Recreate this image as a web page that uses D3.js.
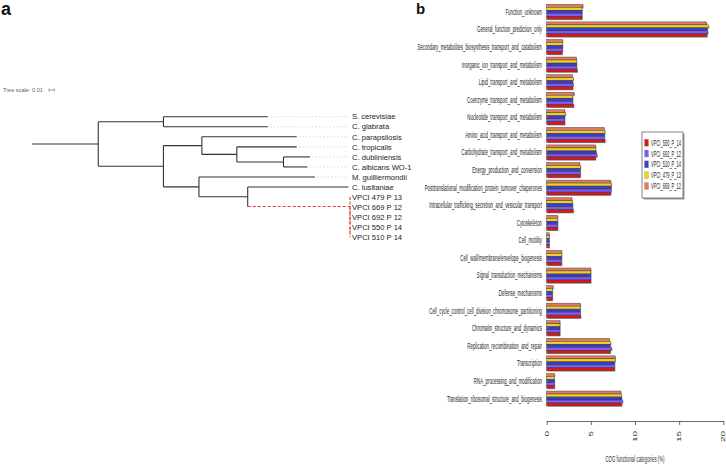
<!DOCTYPE html>
<html><head><meta charset="utf-8">
<script src="https://cdn.jsdelivr.net/npm/d3@7"></script>
<style>body{margin:0;background:#fff}svg{display:block}</style>
</head><body>
<svg id="c" width="726" height="467"></svg>
<script>
// ---------------- DATA ----------------
const categories = [
 "Function_unknown","General_function_prediction_only",
 "Secondary_metabolites_biosynthesis_transport_and_catabolism",
 "Inorganic_ion_transport_and_metabolism","Lipid_transport_and_metabolism",
 "Coenzyme_transport_and_metabolism","Nucleotide_transport_and_metabolism",
 "Amino_acid_transport_and_metabolism","Carbohydrate_transport_and_metabolism",
 "Energy_production_and_conversion",
 "Posttranslational_modification_protein_turnover_chaperones",
 "Intracellular_trafficking_secretion_and_vesicular_transport",
 "Cytoskeleton","Cell_motility","Cell_wall/membrane/envelope_biogenesis",
 "Signal_transduction_mechanisms","Defense_mechanisms",
 "Cell_cycle_control_cell_division_chromosome_partitioning",
 "Chromatin_structure_and_dynamics","Replication_recombination_and_repair",
 "Transcription","RNA_processing_and_modification",
 "Translation_ribosomal_structure_and_biogenesis"];
const seriesNames = ["VPCI_550_P_14","VPCI_692_P_12","VPCI_510_P_14","VPCI_479_P_13","VPCI_669_P_12"];
const vpci550 = [4.0,18.15,1.75,3.45,2.95,3.05,2.05,6.6,5.55,3.8,7.25,3.0,1.25,0.28,1.7,5.0,0.65,3.85,1.5,7.2,7.7,0.88,8.5];
const vpci692 = [4.0,18.25,1.8,3.4,3.0,2.95,2.05,6.55,5.7,3.8,7.3,2.95,1.25,0.28,1.7,5.0,0.65,3.8,1.5,7.35,7.7,0.88,8.6];
const vpci510 = [4.0,18.2,1.8,3.4,2.95,2.95,2.05,6.55,5.6,3.8,7.3,2.95,1.25,0.28,1.7,5.0,0.65,3.8,1.5,7.2,7.7,0.88,8.5];
const vpci479 = [4.0,18.35,1.8,3.4,3.0,2.95,2.15,6.6,5.55,3.85,7.3,2.9,1.25,0.28,1.7,5.0,0.65,3.8,1.5,7.25,7.75,0.85,8.45];
const vpci669 = [4.1,18.1,1.8,3.35,2.9,3.1,2.05,6.5,5.55,3.75,7.25,2.85,1.25,0.28,1.7,5.0,0.72,3.8,1.5,7.1,7.75,0.88,8.4];
const seriesValues = [vpci550, vpci692, vpci510, vpci479, vpci669];
const seriesColors = ["#d41a1a","#7b5cf5","#3b3bd0","#ecd21c","#e07868"];
const xTicks = [0,5,10,15,20];
const xTitle = "COG functional categories (%)";

// phylogenetic tree (branch lengths in substitutions/site)
const tree = {name:"root", children:[
 {name:"n1", length:0.125, children:[
  {name:"n2", length:0.123, children:[
    {name:"S. cerevisiae", length:0.197},
    {name:"C. glabrata", length:0.197}]},
  {name:"n3", length:0.123, children:[
    {name:"n4", length:0.0725, children:[
      {name:"C. parapsilosis", length:0.179},
      {name:"n5", length:0.066, children:[
        {name:"C. tropicalis", length:0.113},
        {name:"n6", length:0.088, children:[
          {name:"C. dubliniensis", length:0.050},
          {name:"C. albicans WO-1", length:0.045}]}]}]},
    {name:"n7", length:0.067, children:[
      {name:"M. guilliermondii", length:0.219},
      {name:"n8", length:0.092, children:[
        {name:"C. lusitaniae", length:0.190},
        {name:"VPCI", length:0.193, children:[
          {name:"VPCI 479 P 13", length:0},
          {name:"v1", length:0, children:[
            {name:"VPCI 669 P 12", length:0},
            {name:"v2", length:0, children:[
              {name:"VPCI 692 P 12", length:0},
              {name:"v3", length:0, children:[
                {name:"VPCI 550 P 14", length:0},
                {name:"VPCI 510 P 14", length:0}]}]}]}]}]}]}]}]}]};
const treeScaleValue = 0.01;

// ---------------- DRAW ----------------
const svg = d3.select("#c");
svg.append("rect").attr("width",726).attr("height",467).attr("fill","#fff");
const FF = "Liberation Sans, Arial, sans-serif";

// panel letters
svg.append("text").attr("x",1).attr("y",15).text("a")
  .attr("font-family",FF).attr("font-weight","bold").attr("font-size",18).attr("fill","#111");
svg.append("text").attr("x",416).attr("y",14).text("b")
  .attr("font-family",FF).attr("font-weight","bold").attr("font-size",15).attr("fill","#111");

// ---- tree ----
const root = d3.hierarchy(tree);
root.each(d => { d.dist = d.parent ? d.parent.dist + (d.data.length||0) : 0; });
const maxDist = d3.max(root.leaves(), d => d.dist);
const tx = d3.scaleLinear().domain([0, maxDist]).range([32, 350]);
const leaves = root.leaves();
const ty = d3.scalePoint().domain(leaves.map(d=>d.data.name)).range([116.7, 237.3]);
root.eachAfter(d => {
  if (!d.children) d.y = ty(d.data.name);
  else d.y = (d.children[0].y + d.children[d.children.length-1].y)/2;
  d.x = tx(d.dist);
});
const isHi = d => d.ancestors().some(a => a.data.name === "VPCI");
const gT = svg.append("g");
gT.selectAll("line.lead").data(leaves.filter(d => d.x < 344)).join("line")
  .attr("x1", d=>d.x+2).attr("x2", 348).attr("y1", d=>d.y).attr("y2", d=>d.y)
  .attr("stroke","#c8c8c8").attr("stroke-width",0.7).attr("stroke-dasharray","1.5,2");
gT.selectAll("line.h").data(root.descendants().filter(d=>d.parent)).join("line")
  .attr("x1", d=>d.parent.x).attr("x2", d=>d.x).attr("y1", d=>d.y).attr("y2", d=>d.y)
  .attr("stroke", d=>isHi(d)?"#e0403a":"#333").attr("stroke-width",1.1)
  .attr("stroke-dasharray", d=>isHi(d)?"3,2":null);
gT.selectAll("line.v").data(root.descendants().filter(d=>d.children && d.children.length>1)).join("line")
  .attr("x1", d=>d.x).attr("x2", d=>d.x)
  .attr("y1", d=>d.children[0].y).attr("y2", d=>d.children[d.children.length-1].y)
  .attr("stroke", d=>isHi(d)?"#e0403a":"#333").attr("stroke-width",1.1)
  .attr("stroke-dasharray", d=>isHi(d)?"3,1.5":null);
gT.selectAll("text.lab").data(leaves).join("text")
  .attr("x", 352).attr("y", d=>d.y+2.7).text(d=>d.data.name)
  .attr("font-family",FF).attr("font-size",7.6).attr("fill","#222");
// tree scale
svg.append("text").attr("x",3).attr("y",92).text("Tree scale: " + treeScaleValue)
  .attr("font-family",FF).attr("font-size",5.6).attr("fill","#666");
const sb0 = 49, sb1 = 49 + (tx(treeScaleValue) - tx(0));
const gs = svg.append("g").attr("stroke","#777").attr("stroke-width",0.7);
gs.append("line").attr("x1",sb0).attr("x2",sb1).attr("y1",90).attr("y2",90);
gs.append("line").attr("x1",sb0).attr("x2",sb0).attr("y1",88.5).attr("y2",91.5);
gs.append("line").attr("x1",sb1).attr("x2",sb1).attr("y1",88.5).attr("y2",91.5);

// ---- bar chart ----
const SX = 0.47; // horizontal compression of the original figure
const x = d3.scaleLinear().domain([0,20]).range([546.7, 723.3]);
const y = d3.scaleBand().domain(categories).range([3.0, 407.3]).paddingInner(0.147).paddingOuter(0.0735);
const drawOrder = [4,3,2,1,0]; // top to bottom within group
const ys = d3.scaleBand().domain(drawOrder).range([0, y.bandwidth()]);
const gB = svg.append("g");
const rows = [];
categories.forEach((c,i) => drawOrder.forEach(s => rows.push({c, s, v: seriesValues[s][i]})));
gB.selectAll("rect.sh").data(rows).join("rect")
  .attr("x", x(0)+0.8).attr("y", d=>y(d.c)+ys(d.s)+0.8)
  .attr("width", d=>x(d.v)-x(0)).attr("height", ys.bandwidth())
  .attr("fill","#aaa");
gB.selectAll("rect.bar").data(rows).join("rect")
  .attr("x", x(0)).attr("y", d=>y(d.c)+ys(d.s))
  .attr("width", d=>x(d.v)-x(0)).attr("height", ys.bandwidth())
  .attr("fill", d=>seriesColors[d.s]).attr("stroke","#333").attr("stroke-width",0.4);
gB.selectAll("text.cat").data(categories).join("text")
  .attr("transform", d=>`translate(542,${y(d)+y.bandwidth()/2+3}) scale(${SX},1)`)
  .attr("text-anchor","end").text(d=>d)
  .attr("font-family",FF).attr("font-size",9.3).attr("fill","#222");
// x axis
const gA = svg.append("g").attr("transform","translate(0,421)");
gA.call(d3.axisBottom(x).tickValues(xTicks).tickSize(4).tickSizeOuter(0).tickFormat(d3.format("d")));
gA.select(".domain").attr("stroke","#444").attr("stroke-width",0.8);
gA.selectAll(".tick line").attr("stroke","#444").attr("stroke-width",0.8);
gA.selectAll(".tick text")
  .attr("transform", `translate(0,10) scale(${SX},1) rotate(-90)`)
  .attr("y",0).attr("x",0).attr("dy","0.35em").attr("text-anchor","end")
  .attr("font-family",FF).attr("font-size",10).attr("fill","#333");
svg.append("text").attr("transform",`translate(635,462) scale(${SX},1)`).attr("text-anchor","middle")
  .text(xTitle).attr("font-family",FF).attr("font-size",9.3).attr("fill","#333");

// legend
const lg = svg.append("g");
lg.append("rect").attr("x",643.5).attr("y",133.5).attr("width",41).attr("height",66).attr("fill","#999");
lg.append("rect").attr("x",642).attr("y",132).attr("width",41).attr("height",66).attr("fill","#fff").attr("stroke","#666").attr("stroke-width",0.8);
const ly = d3.scalePoint().domain(seriesNames).range([142.7, 186]);
lg.selectAll("rect.sw").data(seriesNames).join("rect")
  .attr("x",644.5).attr("y", d=>ly(d)-3.5).attr("width",4).attr("height",7)
  .attr("fill",(d,i)=>seriesColors[i]).attr("stroke","#999").attr("stroke-width",0.3);
lg.selectAll("text.lt").data(seriesNames).join("text")
  .attr("transform", d=>`translate(651,${ly(d)+3}) scale(${SX},1)`).text(d=>d)
  .attr("font-family",FF).attr("font-size",8.6).attr("fill","#222");
</script>
</body></html>
